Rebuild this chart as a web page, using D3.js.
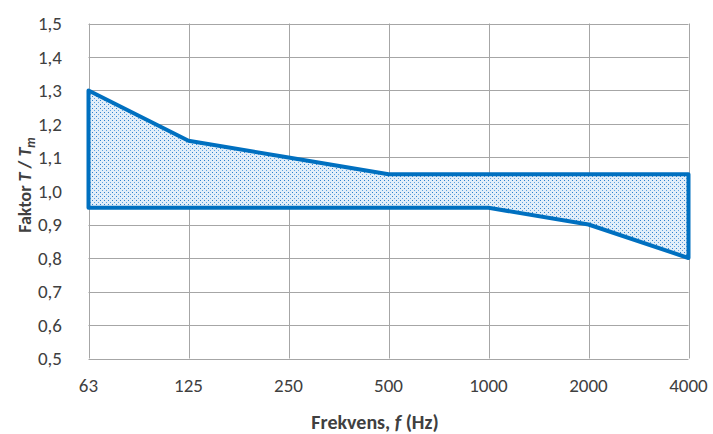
<!DOCTYPE html>
<html>
<head>
<meta charset="UTF-8">
<title>Faktor T / Tm</title>
<script src="https://cdnjs.cloudflare.com/ajax/libs/d3/7.8.5/d3.min.js"></script>
<style>
  body { margin: 0; background: #fff; }
  text { font-family: Carlito, Lato, "Open Sans", "Liberation Sans", sans-serif; fill: #404040; }
</style>
</head>
<body>
<svg id="chart" width="713" height="434"></svg>
<script>
// data
const freqs = ['63', '125', '250', '500', '1000', '2000', '4000'];
const upper = [1.3, 1.15, 1.1, 1.05, 1.05, 1.05, 1.05];
const lower = [0.95, 0.95, 0.95, 0.95, 0.95, 0.9, 0.8];
const yTicks = [0.5, 0.6, 0.7, 0.8, 0.9, 1.0, 1.1, 1.2, 1.3, 1.4, 1.5];

const svg = d3.select('#chart');
const plotL = 88.5, plotR = 688.5, plotT = 23.5, plotB = 358.5;

const x = d3.scalePoint().domain(freqs).range([plotL, plotR]);
const y = d3.scaleLinear().domain([0.5, 1.5]).range([plotB, plotT]);

// dotted fill pattern
const defs = svg.append('defs');
const pat = defs.append('pattern').attr('id', 'dots')
  .attr('patternUnits', 'userSpaceOnUse').attr('width', 4).attr('height', 4);
pat.append('rect').attr('width', 4).attr('height', 4).attr('fill', '#e2eef9');
pat.append('rect').attr('x', 0).attr('y', 0).attr('width', 1).attr('height', 1).attr('fill', '#2f80cc');
pat.append('rect').attr('x', 2).attr('y', 2).attr('width', 1).attr('height', 1).attr('fill', '#5fa3e0');

// grid
const grid = svg.append('g').attr('stroke', '#a6a6a6').attr('stroke-width', 1);
grid.selectAll('line.h').data(yTicks).enter().append('line')
  .attr('x1', plotL).attr('x2', plotR)
  .attr('y1', d => Math.round(y(d)) + 0.5).attr('y2', d => Math.round(y(d)) + 0.5);
grid.selectAll('line.v').data(freqs).enter().append('line')
  .attr('y1', plotT).attr('y2', plotB)
  .attr('x1', d => Math.round(x(d)) + 0.5).attr('x2', d => Math.round(x(d)) + 0.5);

// band polygon: upper left->right, lower right->left
const pts = freqs.map((f, i) => [x(f), y(upper[i])])
  .concat(freqs.map((f, i) => [x(f), y(lower[i])]).reverse());
svg.append('path')
  .attr('d', d3.line()(pts) + 'Z')
  .attr('fill', 'url(#dots)')
  .attr('stroke', '#0070c0').attr('stroke-width', 4)
  .attr('stroke-linejoin', 'round');

// y axis labels
const fmt = d => d3.format('.1f')(d).replace('.', ',');
svg.selectAll('text.yl').data(yTicks).enter().append('text')
  .attr('x', 62).attr('y', d => y(d)).attr('dy', '0.35em')
  .attr('text-anchor', 'end').attr('font-size', 19).text(fmt);

// x axis labels
svg.selectAll('text.xl').data(freqs).enter().append('text')
  .attr('x', d => x(d)).attr('y', 385).attr('dy', '0.35em')
  .attr('text-anchor', 'middle').attr('font-size', 19).text(d => d);

// axis titles
const xt = svg.append('text').attr('x', 375).attr('y', 429)
  .attr('text-anchor', 'middle').attr('font-size', 20).attr('font-weight', 'bold');
xt.append('tspan').text('Frekvens, ');
xt.append('tspan').attr('font-style', 'italic').text('f');
xt.append('tspan').text(' (Hz)');

const yt = svg.append('text').attr('transform', 'translate(31,185) rotate(-90)')
  .attr('text-anchor', 'middle').attr('font-size', 18).attr('font-weight', 'bold');
yt.append('tspan').text('Faktor ');
yt.append('tspan').attr('font-style', 'italic').text('T');
yt.append('tspan').text(' / ');
yt.append('tspan').attr('font-style', 'italic').text('T');
yt.append('tspan').attr('font-style', 'italic').attr('font-size', 13).attr('dy', 4).text('m');
</script>
</body>
</html>
